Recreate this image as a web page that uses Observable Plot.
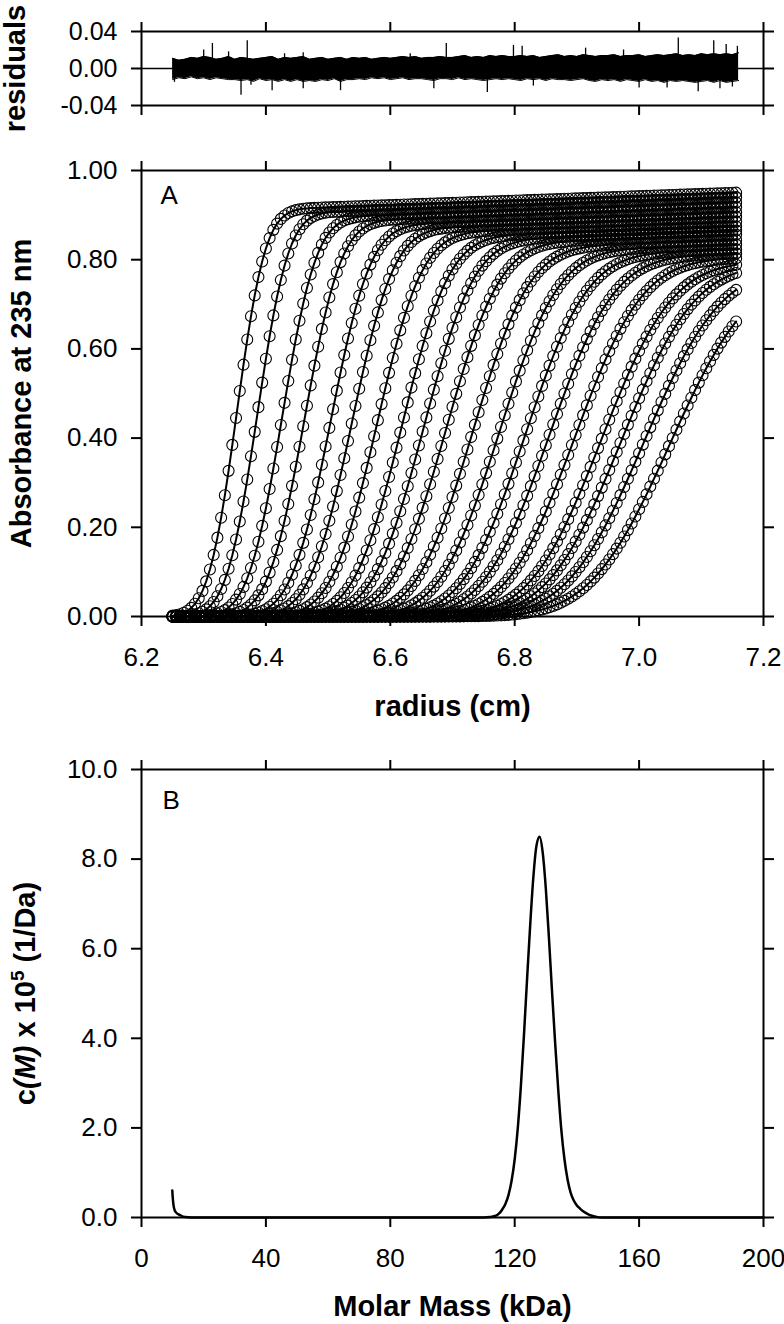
<!DOCTYPE html>
<html><head><meta charset="utf-8">
<script src="https://cdn.jsdelivr.net/npm/d3@7"></script>
<script src="https://cdn.jsdelivr.net/npm/@observablehq/plot@0.6"></script>
<style>
body{margin:0;background:#fff;}
#wrap{position:relative;width:784px;height:1324px;overflow:hidden;background:#fff;}
.panel{position:absolute;left:0;}
</style></head><body><div id="wrap"></div>
<script>
// ---------- tick labels ----------
const radiusTicks = [6.2, 6.4, 6.6, 6.8, 7.0, 7.2];
const residualTicks = [-0.04, 0, 0.04];
const absTicks = [0, 0.2, 0.4, 0.6, 0.8, 1.0];
const massTicks = [0, 40, 80, 120, 160, 200];
const cmTicks = [0, 2, 4, 6, 8, 10];

// ---------- residuals: core envelope of the band (units of 0.001), radius 6.25 .. 7.16 every 0.01 cm ----------
const residualStart = 6.25, residualStep = 0.01;
const residualHigh = [
 11,9,10,12,11,13,12,10,11,13,
 10,12,11,10,11,12,13,10,12,11,
 12,13,10,11,12,10,11,12,10,12,
 11,12,10,11,12,11,12,13,12,13,
 11,12,12,13,12,12,13,14,12,13,
 12,14,13,14,13,13,14,13,14,12,
 13,14,15,13,14,13,15,14,13,14,
 14,15,13,14,14,15,13,14,15,14,
 15,16,14,15,14,16,15,16,15,16,
 15,17];
const residualLow = [
 -12,-10,-11,-9,-11,-10,-12,-10,-11,-12,
 -12,-13,-12,-14,-11,-13,-12,-14,-12,-14,
 -12,-14,-13,-14,-12,-13,-11,-14,-12,-12,
 -11,-12,-10,-11,-10,-12,-11,-10,-12,-11,
 -11,-12,-13,-11,-11,-12,-10,-12,-11,-12,
 -13,-12,-11,-12,-11,-12,-13,-11,-12,-11,
 -13,-11,-12,-12,-13,-12,-11,-13,-14,-12,
 -13,-12,-14,-12,-13,-14,-12,-14,-13,-15,
 -13,-14,-13,-14,-15,-14,-13,-15,-13,-15,
 -14,-13];
// isolated spikes of the residual traces [radius, residual]
const residualSpikeR = [6.300,6.314,6.340,6.370,6.430,6.460,6.632,6.690,6.798,6.812,6.914,6.975,7.063,7.120,7.140,7.158,
                        6.253,6.360,6.376,6.410,6.460,6.520,6.670,6.756,6.830,7.000,7.045,7.095,7.130,7.150];
const residualSpikeV = [0.020,0.027,0.018,0.030,0.016,0.017,0.016,0.027,0.025,0.024,0.022,0.020,0.033,0.030,0.026,0.024,
                        -0.015,-0.029,-0.018,-0.024,-0.022,-0.024,-0.022,-0.026,-0.019,-0.021,-0.021,-0.025,-0.022,-0.020];

// ---------- panel A: sedimentation boundaries (read per scan) ----------
const scanMidpoint = [6.353,6.386,6.426,6.462,6.504,6.538,6.578,6.618,6.653,6.689,6.732,6.774,6.816,6.854,6.895,6.938,6.970,7.006,7.048];
const scanSpread   = [0.036,0.039,0.043,0.046,0.050,0.053,0.057,0.060,0.064,0.068,0.071,0.075,0.078,0.082,0.085,0.089,0.092,0.096,0.100];
const scanPlateau  = [0.950,0.940,0.928,0.918,0.906,0.896,0.885,0.874,0.865,0.856,0.844,0.834,0.823,0.814,0.804,0.794,0.787,0.778,0.769]; // at r = 7.15
const plateauSlope = 0.05;   // per cm
const meniscus = 6.25, lastRadius = 7.16, radialStep = 0.006;

// ---------- panel B: c(M) distribution ----------
const molarMass = [9.9,10.1,10.4,11,12.5,14,16,20,40,60,80,100,110,112,114,115,116,117,118,119,120,121,122,123,124,125,126,127,128,129,130,131,132,133,134,135,136,137,138,139,140,141,142,144,146,148,160,180,200];
const cOfM      = [0.6,0.4,0.23,0.12,0.05,0.01,0,0,0,0,0,0,0,0.01,0.04,0.09,0.18,0.3,0.5,0.82,1.3,2.0,2.95,4.1,5.35,6.55,7.6,8.3,8.5,8.15,7.35,6.25,5.05,3.9,2.85,1.95,1.3,0.85,0.55,0.38,0.27,0.2,0.14,0.06,0.02,0,0,0,0];

// ---------- build tables ----------
function erf(x){const s=Math.sign(x);x=Math.abs(x);const t=1/(1+0.3275911*x);
  const y=1-(((((1.061405429*t-1.453152027)*t)+1.421413741)*t-0.284496736)*t+0.254829592)*t*Math.exp(-x*x);return s*y;}
const radii = d3.range(meniscus, lastRadius + 1e-9, radialStep);
const scans = [];
scanMidpoint.forEach((mid, i) => {
  radii.forEach(r => {
    const p = scanPlateau[i] - plateauSlope * (7.15 - r);
    scans.push({scan: i, r, a: p * 0.5 * (1 + erf((r - mid) / (Math.SQRT2 * scanSpread[i])))});
  });
});
const residuals = residualHigh.map((h, i) => ({r: residualStart + i * residualStep, hi: h / 1000, lo: residualLow[i] / 1000}));
const spikes = residualSpikeR.map((r, i) => ({r, v: residualSpikeV[i]}));
const dist = molarMass.map((m, i) => ({m, c: cOfM[i]}));

const font = '"Liberation Sans", Arial, Helvetica, sans-serif';
const baseStyle = {fontFamily: font, fontSize: "26px", color: "black", background: "white", overflow: "visible"};
const f2 = d => d.toFixed(2), f1 = d => d.toFixed(1), f0 = d => String(d), none = () => "";

function frameAxes(xt, yt, xfmt, yfmt, ysize = 26) {
  const marks = [
    Plot.frame({stroke: "black", strokeWidth: 2}),
    Plot.axisX(xt, {anchor: "bottom", tickSize: 10, tickFormat: none, label: null, strokeWidth: 2}),
    Plot.axisX(xt, {anchor: "top", tickSize: 10, tickFormat: none, label: null, strokeWidth: 2}),
    Plot.axisY(yt, {anchor: "left", tickSize: 10, tickFormat: none, label: null, strokeWidth: 2}),
    Plot.axisY(yt, {anchor: "right", tickSize: 10, tickFormat: none, label: null, strokeWidth: 2}),
    Plot.text(yt, {y: d => d, text: yfmt, frameAnchor: "left", dx: -24, textAnchor: "end", lineAnchor: "middle", fontSize: ysize})
  ];
  if (xfmt) marks.push(Plot.text(xt, {x: d => d, text: xfmt, frameAnchor: "bottom", dy: 41, textAnchor: "middle", lineAnchor: "middle", fontSize: 26}));
  return marks;
}

const wrap = document.getElementById("wrap");
function place(svg, top) { const d = document.createElement("div"); d.className = "panel"; d.style.top = top + "px"; d.appendChild(svg); wrap.appendChild(d); }

// residuals panel
const p1 = Plot.plot({
  width: 784, height: 140, marginLeft: 141, marginRight: 21, marginTop: 31, marginBottom: 35,
  style: baseStyle,
  x: {domain: [6.2, 7.2]}, y: {domain: [-0.04, 0.04]},
  marks: [
    Plot.ruleY([0], {stroke: "black", strokeWidth: 1.5}),
    Plot.areaY(residuals, {x: "r", y1: "lo", y2: "hi", fill: "black"}),
    Plot.line(residuals, {x: "r", y: "hi", stroke: "black", strokeWidth: 1}),
    Plot.line(residuals, {x: "r", y: "lo", stroke: "black", strokeWidth: 1}),
    Plot.ruleX(spikes, {x: "r", y1: 0, y2: "v", stroke: "black", strokeWidth: 1.3}),
    ...frameAxes(radiusTicks, residualTicks, null, f2, 25),
    Plot.text(["residuals"], {frameAnchor: "left", dx: -126, rotate: -90, fontSize: 29, fontWeight: "bold", textAnchor: "middle", lineAnchor: "middle"})
  ]
});
place(p1, 0);

// panel A
const p2 = Plot.plot({
  width: 784, height: 590, marginLeft: 141, marginRight: 21, marginTop: 30, marginBottom: 114,
  style: baseStyle,
  x: {domain: [6.2, 7.2]}, y: {domain: [0, 1]},
  marks: [
    Plot.dot(scans, {x: "r", y: "a", r: 5.5, stroke: "black", strokeWidth: 1.1, fill: "none"}),
    Plot.line(scans, {x: "r", y: "a", z: "scan", stroke: "black", strokeWidth: 2}),
    ...frameAxes(radiusTicks, absTicks, f1, f2),
    Plot.text(["A"], {frameAnchor: "top-left", dx: 19, dy: 25, fontSize: 26, textAnchor: "start", lineAnchor: "middle"}),
    Plot.text(["Absorbance at 235 nm"], {frameAnchor: "left", dx: -120, rotate: -90, fontSize: 29, fontWeight: "bold", textAnchor: "middle", lineAnchor: "middle"}),
    Plot.text(["radius (cm)"], {frameAnchor: "bottom", dy: 90, fontSize: 29, fontWeight: "bold", textAnchor: "middle", lineAnchor: "middle"})
  ]
});
place(p2, 140);

// panel B
const p3 = Plot.plot({
  width: 784, height: 594, marginLeft: 141, marginRight: 21, marginTop: 39, marginBottom: 107,
  style: baseStyle,
  x: {domain: [0, 200]}, y: {domain: [0, 10]},
  marks: [
    Plot.line(dist, {x: "m", y: "c", curve: "monotone-x", stroke: "black", strokeWidth: 2.5}),
    ...frameAxes(massTicks, cmTicks, f0, f1),
    Plot.text(["B"], {frameAnchor: "top-left", dx: 21, dy: 31, fontSize: 26, textAnchor: "start", lineAnchor: "middle"}),
    Plot.text(["CM_LABEL"], {frameAnchor: "left", dx: -116, rotate: -90, fontSize: 29, fontWeight: "bold", textAnchor: "middle", lineAnchor: "middle"}),
    Plot.text(["Molar Mass (kDa)"], {frameAnchor: "bottom", dy: 89, fontSize: 29, fontWeight: "bold", textAnchor: "middle", lineAnchor: "middle"})
  ]
});
p3.querySelectorAll("text").forEach(t => {
  if (t.textContent === "CM_LABEL") {
    t.textContent = "";
    const parts = [{text: "c"}, {text: "(M)", italic: true}, {text: " x 10"}, {text: "5", size: "19px", dy: "-11"}, {text: " (1/Da)", dy: "11"}];
    parts.forEach(p => {
      const ts = document.createElementNS("http://www.w3.org/2000/svg", "tspan");
      ts.textContent = p.text;
      if (p.italic) ts.setAttribute("font-style", "italic");
      if (p.size) ts.setAttribute("font-size", p.size);
      if (p.dy) ts.setAttribute("dy", p.dy);
      t.appendChild(ts);
    });
  }
});
place(p3, 730);
</script></body></html>
